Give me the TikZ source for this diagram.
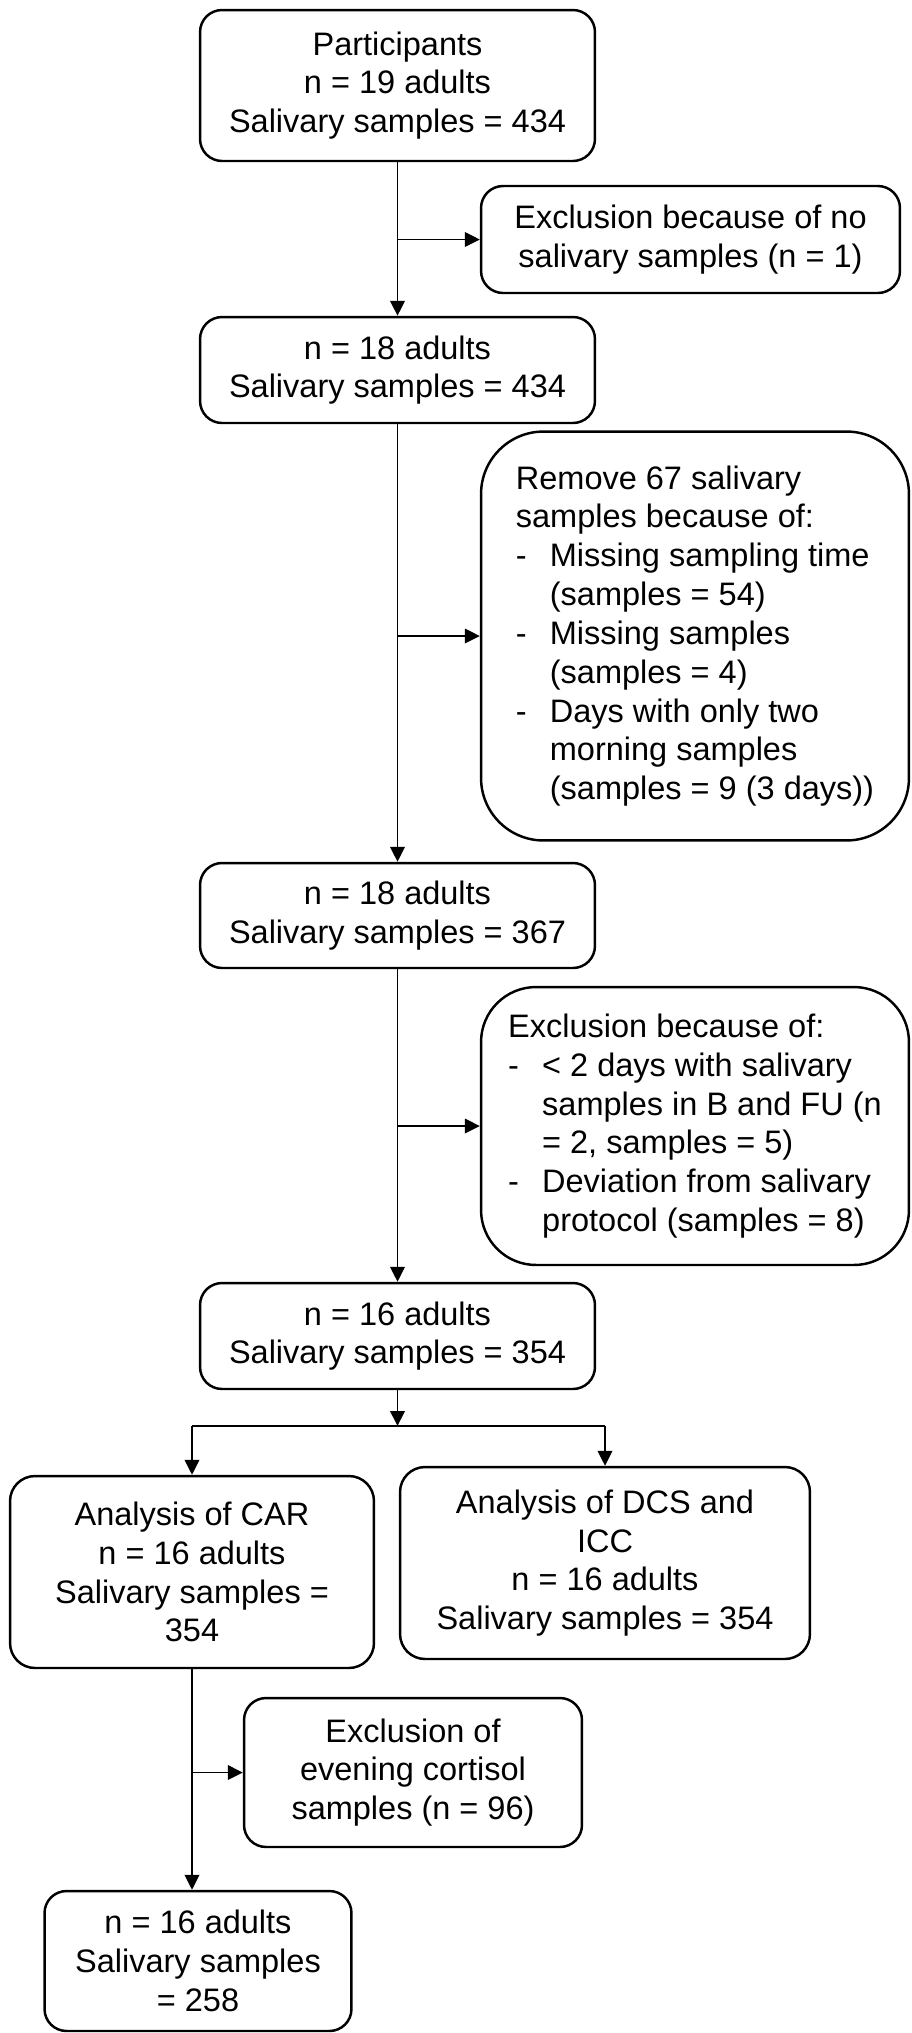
\documentclass[tikz,border=0pt]{standalone}
\usepackage{fontspec}
\setmainfont{Liberation Sans}
\usetikzlibrary{arrows.meta}

%% a dash for the list entries and the gap that lines up the text after it
\newcommand{\dashitem}{\makebox[0.68cm][l]{-}}
\newcommand{\dashgap}{\hspace*{0.68cm}}

\tikzset{
  stage/.style={draw, rounded corners=0.44cm, line width=1.4pt, align=center, inner sep=0pt,
    font=\fontsize{18.5}{22.1}\selectfont},
  flow/.style={line width=1.1pt, -{Triangle[length=0.3cm,width=0.29cm]}},
}

\begin{document}
\begin{tikzpicture}[x=0.02cm,y=-0.02cm]
\useasboundingbox (0,0) rectangle (912,2033);
%% The main column of boxes, one under the other
\node[stage, minimum width=7.9cm, minimum height=3.02cm] (part) at (397.5,85.5) {Participants\\n = 19 adults\\Salivary samples = 434};
\node[stage, minimum width=7.9cm, minimum height=2.12cm] (adultsA) at (397.5,370) {n = 18 adults\\Salivary samples = 434};
\node[stage, minimum width=7.9cm, minimum height=2.1cm] (adultsB) at (397.5,915.5) {n = 18 adults\\Salivary samples = 367};
\node[stage, minimum width=7.9cm, minimum height=2.12cm] (adultsC) at (397.5,1336) {n = 16 adults\\Salivary samples = 354};
%% The boxes on the right that list what was taken out
\node[stage, minimum width=8.38cm, minimum height=2.14cm] (exclA) at (690.5,239.5) {Exclusion because of no\\salivary samples (n = 1)};
\node[stage, rounded corners=1.25cm, minimum width=8.56cm, minimum height=8.18cm, align=left] (remove) at (695,636) {Remove 67 salivary\\samples because of:\\\dashitem Missing sampling time\\\dashgap(samples = 54)\\\dashitem Missing samples\\\dashgap(samples = 4)\\\dashitem Days with only two\\\dashgap morning samples\\\dashgap(samples = 9 (3 days))};
\node[stage, rounded corners=1.1cm, minimum width=8.56cm, minimum height=5.56cm, align=left] (exclB) at (695,1126) {Exclusion because of:\\\dashitem < 2 days with salivary\\\dashgap samples in B and FU (n\\\dashgap = 2, samples = 5)\\\dashitem Deviation from salivary\\\dashgap protocol (samples = 8)};
%% The split into the two analyses
\coordinate (split) at (397.5,1426);
\node[stage, rounded corners=0.5cm, minimum width=7.28cm, minimum height=3.84cm] (car) at (192,1572) {Analysis of CAR\\n = 16 adults\\Salivary samples =\\354};
\node[stage, rounded corners=0.5cm, minimum width=8.2cm, minimum height=3.84cm] (dcs) at (605,1563) {Analysis of DCS and\\ICC\\n = 16 adults\\Salivary samples = 354};
\node[stage, minimum width=6.76cm, minimum height=2.98cm] (exclC) at (413,1772.5) {Exclusion of\\evening cortisol\\samples (n = 96)};
\node[stage, minimum width=6.14cm, minimum height=2.8cm] (final) at (198,1961) {n = 16 adults\\Salivary samples\\= 258};

%% Arrows down the column and out to the side boxes
\draw[flow] (part) -- (adultsA);
\draw[flow] (part.south |- exclA.west) -- (exclA.west);
\draw[flow] (adultsA) -- (adultsB);
\draw[flow] (adultsA.south |- remove.west) -- (remove.west);
\draw[flow] (adultsB) -- (adultsC);
\draw[flow] (adultsB.south |- exclB.west) -- (exclB.west);
\draw[flow] (adultsC) -- (split);
\draw[line width=0.75pt] (car.north |- split) -- (dcs.north |- split);
\draw[flow] (car.north |- split) -- (car.north);
\draw[flow] (dcs.north |- split) -- (dcs.north);
\draw[flow] (car.south) -- (car.south |- final.north);
\draw[flow] (car.south |- exclC.west) -- (exclC.west);
\end{tikzpicture}
\end{document}
